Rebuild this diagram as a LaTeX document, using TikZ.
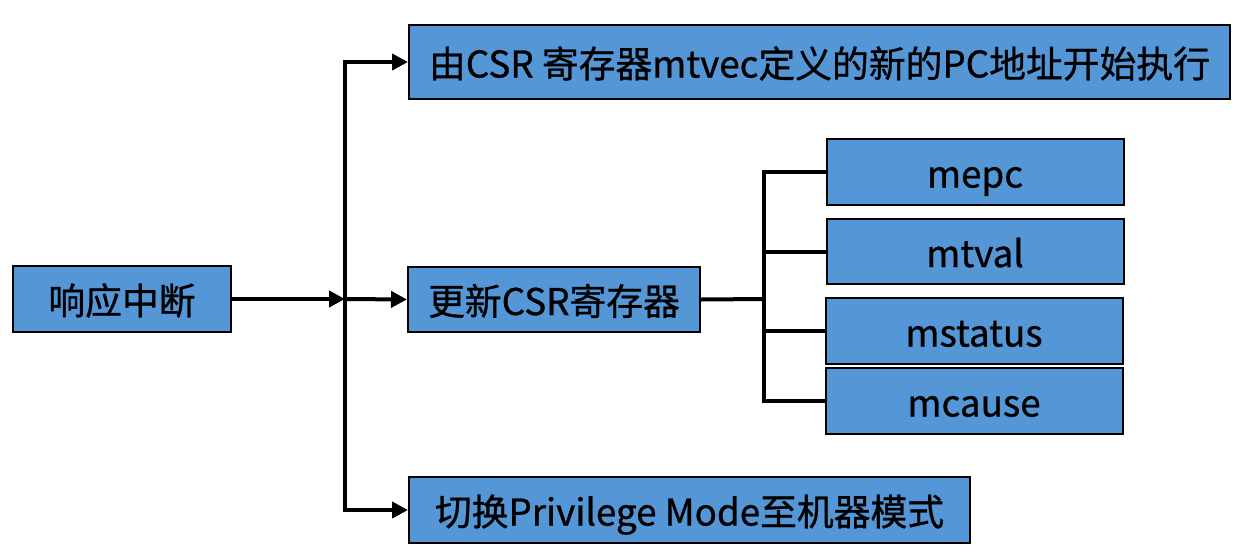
\documentclass[tikz,border=0pt]{standalone}
\usepackage{fontspec}
\setmainfont{Noto Sans CJK SC}[BoldFont={Noto Sans CJK SC},BoldFeatures={FakeBold=0.8}]
\usepackage{tikz}
\usetikzlibrary{arrows.meta}

\definecolor{boxblue}{RGB}{84,150,214}

\begin{document}
\begin{tikzpicture}[x=0.5pt,y=0.5pt,yscale=-1,xscale=1,
  box/.style={draw=black,line width=1pt,fill=boxblue,inner sep=0pt,
    text height=18pt,text depth=2.5pt,font=\fontsize{18.4pt}{20pt}\selectfont\bfseries},
  conn/.style={line width=2pt},
  arr/.style={conn,-{Triangle[length=8pt,width=8pt]}}]
%set diagram size to the reference
\useasboundingbox (0,0) rectangle (1251,557);

% Boxes
\node [box,minimum width=109pt,minimum height=33pt] (resp) at (122,299) {响应中断};
\node [box,minimum width=410.5pt,minimum height=37pt] (newpc) at (819.5,62) {由CSR 寄存器mtvec定义的新的PC地址开始执行};
\node [box,minimum width=146pt,minimum height=32.5pt] (upd) at (554,299.5) {更新CSR寄存器};
\node [box,minimum width=280.5pt,minimum height=33pt] (mode) at (689.5,510) {切换Privilege Mode至机器模式};
\node [box,minimum width=148.5pt,minimum height=33pt] (mepc) at (975,172) {mepc};
\node [box,minimum width=148.5pt,minimum height=32.5pt] (mtval) at (975,251.5) {mtval};
\node [box,minimum width=148.5pt,minimum height=33pt] (mstatus) at (974,331) {mstatus};
\node [box,minimum width=148.5pt,minimum height=33pt] (mcause) at (974,401) {mcause};

% Junctions
\coordinate (trunk) at (345,299);
\coordinate (sub) at (764,299);

% Main trunk
\draw [arr] (resp.east) -- (trunk);
\draw [arr] (trunk) -- (upd.west);
\draw [arr] (trunk) |- (newpc.west);
\draw [arr] (trunk) |- (mode.west);

% Register branch
\draw [conn] (upd.east) -- (sub);
\draw [conn] (sub) |- (mepc.west);
\draw [conn] (sub) |- (mtval.west);
\draw [conn] (sub) |- (mstatus.west);
\draw [conn] (sub) |- (mcause.west);

\end{tikzpicture}
\end{document}
